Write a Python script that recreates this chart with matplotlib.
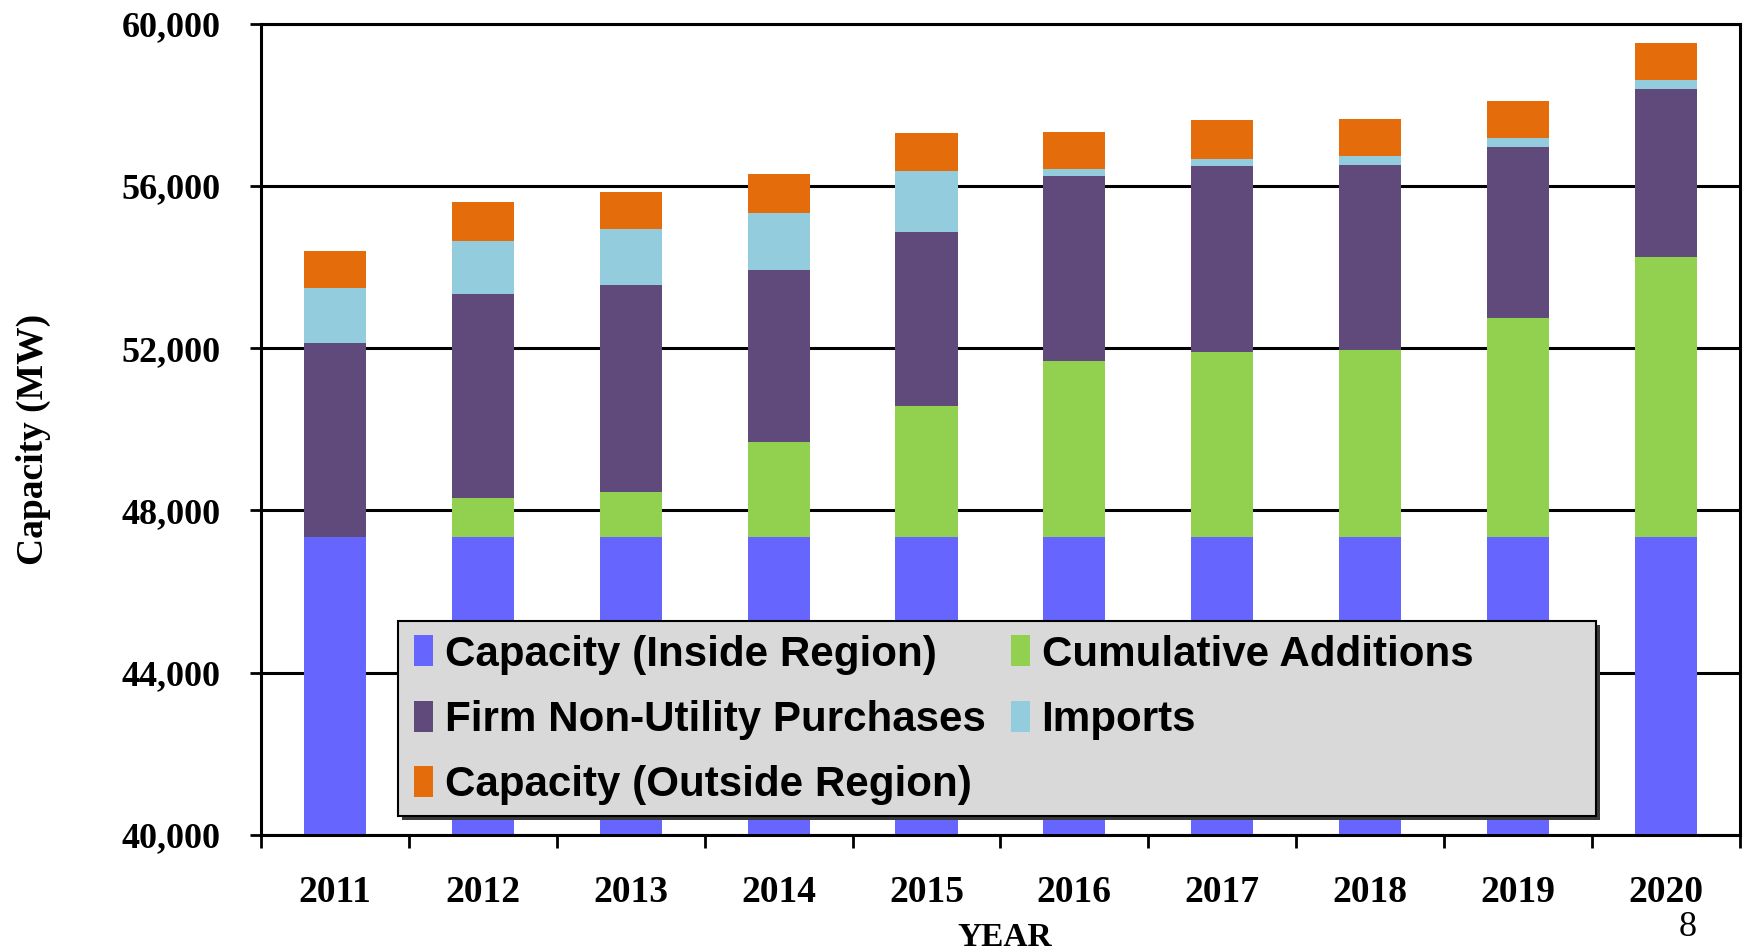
import numpy as np
import matplotlib
matplotlib.use("Agg")
import matplotlib.pyplot as plt
from matplotlib.patches import Rectangle, Patch
from matplotlib.ticker import FuncFormatter

# data (MW)
years = ['2011', '2012', '2013', '2014', '2015', '2016', '2017', '2018', '2019', '2020']
inside = [47350] * 10
additions = [0, 950, 1110, 2340, 3230, 4340, 4550, 4610, 5400, 6910]
firm = [4770, 5030, 5090, 4230, 4290, 4545, 4590, 4550, 4205, 4120]
imports = [1360, 1320, 1385, 1415, 1490, 180, 185, 220, 225, 225]
outside = [920, 955, 915, 950, 940, 920, 950, 920, 910, 910]

names = ['Capacity (Inside Region)', 'Cumulative Additions', 'Firm Non-Utility Purchases',
         'Imports', 'Capacity (Outside Region)']
colors = ['#6666FF', '#92D050', '#604A7B', '#93CDDD', '#E46C0A']

serif = 'Liberation Serif'
sans = 'Liberation Sans'

fig = plt.figure(figsize=(17.45, 9.51), dpi=100)
ax = fig.add_axes([0.1496, 0.122, 0.8474, 0.853])

x = np.arange(len(years))
series = [inside, additions, firm, imports, outside]
bottom = np.zeros(len(years))
for vals, c in zip(series, colors):
    ax.bar(x, vals, width=0.42, bottom=bottom, color=c, zorder=2)
    bottom += np.array(vals)

ax.set_ylim(40000, 60000)
ax.set_xlim(-0.5, 9.5)
ax.set_yticks(np.arange(40000, 60001, 4000))
ax.yaxis.set_major_formatter(FuncFormatter(lambda v, p: f'{int(v):,}'))
ax.grid(axis='y', color='black', linewidth=2.2, zorder=1)
ax.set_axisbelow(True)

ax.set_xticks(x)
ax.set_xticklabels(years)
ax.set_xticks(np.arange(-0.5, 10, 1), minor=True)
ax.tick_params(axis='x', which='major', length=0, pad=29)
ax.tick_params(axis='x', which='minor', length=9, width=2, direction='out')
ax.tick_params(axis='y', length=8, width=2, direction='out', pad=21)

for lab in ax.get_xticklabels():
    lab.set_fontfamily(serif)
    lab.set_fontweight('bold')
    lab.set_fontsize(27)
for lab in ax.get_yticklabels():
    lab.set_fontfamily(serif)
    lab.set_fontweight('bold')
    lab.set_fontsize(26)

for s in ax.spines.values():
    s.set_linewidth(2.2)
    s.set_color('black')

ax.set_ylabel('Capacity (MW)', fontfamily=serif, fontweight='bold', fontsize=27)
ax.yaxis.set_label_coords(-0.154, 0.487)
ax.yaxis.label.set_va('center')
ax.set_xlabel('YEAR', fontfamily=serif, fontweight='bold', fontsize=24)
ax.xaxis.set_label_coords(0.503, -0.126)
ax.xaxis.label.set_va('center')

# legend box with shadow, drawn by hand so it can be wider than its entries
lx, ly, lw, lh = 0.0926, 0.023, 0.81, 0.241
ax.add_patch(Rectangle((lx + 0.003, ly - 0.005), lw, lh, transform=ax.transAxes,
                       facecolor='#3a3a3a', edgecolor='none', zorder=4))
ax.add_patch(Rectangle((lx, ly), lw, lh, transform=ax.transAxes,
                       facecolor='#D9D9D9', edgecolor='black', linewidth=1.5, zorder=5))

order = [0, 2, 4, 1, 3]
handles = [Patch(facecolor=colors[i], edgecolor='none') for i in order]
labels = [names[i] for i in order]
leg = ax.legend(handles, labels, ncol=2, loc='upper left',
                bbox_to_anchor=(0.0963, ly + lh - 0.004), frameon=False,
                prop={'family': sans, 'weight': 'bold', 'size': 30.3},
                handlelength=0.45, handleheight=0.75, handletextpad=0.28,
                columnspacing=0.6, labelspacing=0.6, borderaxespad=0,
                borderpad=0.25)
leg.set_zorder(6)

fig.text(0.967, 0.025, '8', fontfamily=serif, fontsize=26, ha='center', va='center')

fig.savefig('out.png', dpi=100)
